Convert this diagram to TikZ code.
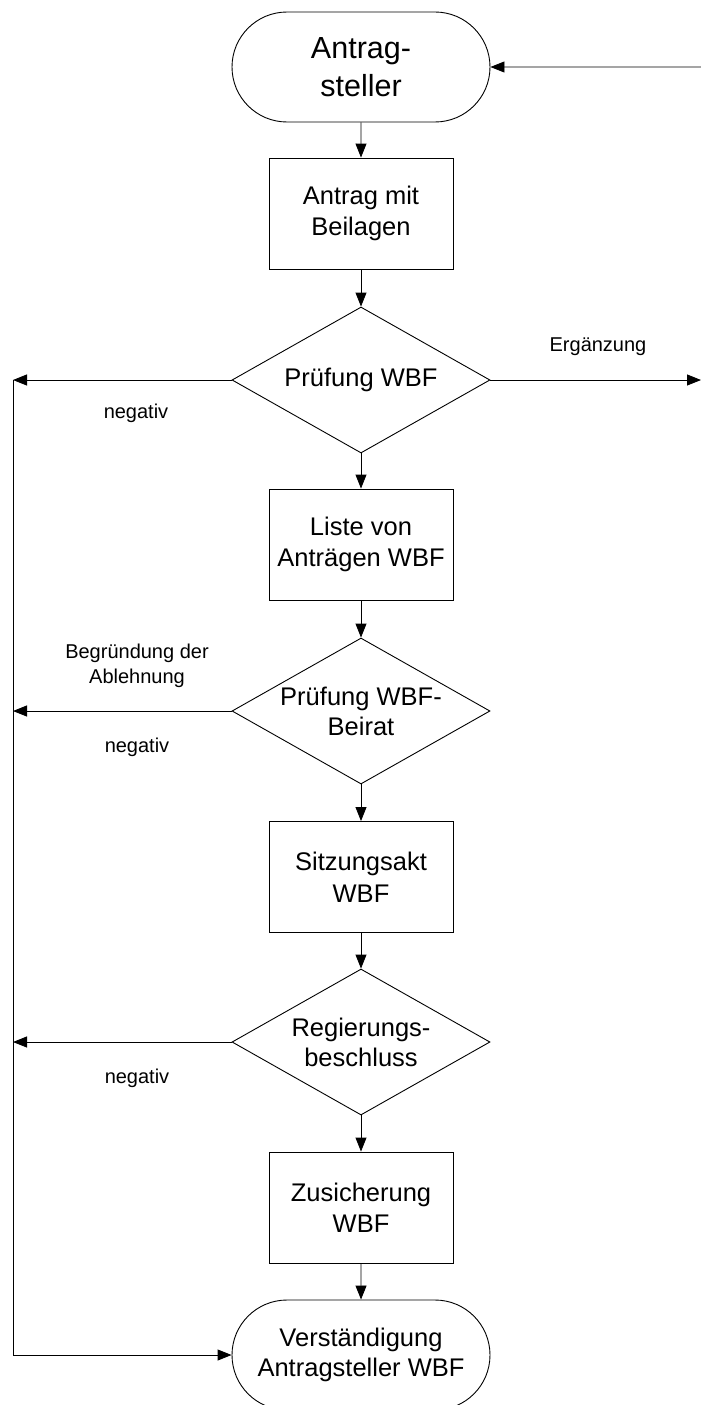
\documentclass[tikz,border=0pt]{standalone}
\usepackage{fontspec}
\setmainfont{Liberation Sans}
\usetikzlibrary{shapes.geometric, shapes.misc, arrows.meta}

\tikzset{
  terminal/.style={draw, rounded rectangle, minimum width=258pt, minimum height=110pt, inner sep=0pt, align=center, font=\fontsize{25.5}{30}\selectfont},
  process/.style={draw, rectangle, minimum width=184pt, minimum height=111pt, inner sep=0pt, align=center, font=\fontsize{25.5}{31.5}\selectfont},
  dtext/.style={align=center, font=\fontsize{25.5}{30}\selectfont},
  decision/.style={draw, diamond, minimum width=258pt, minimum height=146pt, inner sep=0pt, label={[dtext]center:#1}},
  note/.style={align=center, font=\fontsize{20}{25}\selectfont},
  flow/.style={-{Triangle[length=14pt,width=11pt]}}
}

\begin{document}
\begin{tikzpicture}[x=1pt, y=-1pt, line width=0.9pt]
\clip (0,0) rectangle (701,1405);

% main column
\node[terminal, font=\fontsize{30.5}{38}\selectfont] (antragsteller) at (361,67) {Antrag-\\steller};
\node[process] (beilagen) at (361,213.5) {Antrag mit\\Beilagen};
\node[decision={Prüfung WBF}] (pruefwbf) at (361,380) {};
\node[process] (liste) at (361,544.5) {Liste von\\Anträgen WBF};
\node[decision={Prüfung WBF-\\Beirat}] (pruefbeirat) at (361,711) {};
\node[process] (sitzung) at (361,877) {Sitzungsakt\\WBF};
\node[decision={Regierungs-\\beschluss}] (regierung) at (361,1042) {};
\node[process] (zusicherung) at (361,1207.5) {Zusicherung\\WBF};
\node[terminal] (verstaendigung) at (361,1355) {Verständigung\\Antragsteller WBF};

% free ends
\coordinate (rin) at (701,67);
\coordinate (rout) at (701,380);
\coordinate (neg1) at (13,380);
\coordinate (neg2) at (13,711);
\coordinate (neg3) at (13,1042);
\coordinate (negend) at (13,1355);

\draw[flow] (antragsteller) -- (beilagen);
\draw[flow] (beilagen) -- (pruefwbf);
\draw[flow] (pruefwbf) -- (liste);
\draw[flow] (liste) -- (pruefbeirat);
\draw[flow] (pruefbeirat) -- (sitzung);
\draw[flow] (sitzung) -- (regierung);
\draw[flow] (regierung) -- (zusicherung);
\draw[flow] (zusicherung) -- (verstaendigung);

\draw[flow] (rin) -- (antragsteller);
\draw[flow] (pruefwbf) -- (rout);
\draw[flow] (pruefwbf) -- (neg1);
\draw[flow] (pruefbeirat) -- (neg2);
\draw[flow] (regierung) -- (neg3);
\draw (neg1) -- (negend);
\draw[flow] (negend) -- (verstaendigung);

% labels
\node[note] (ergaenzung) at (598,347) {Ergänzung};
\node[note] (negativa) at (136,413) {negativ};
\node[note] (begruendung) at (137,666) {Begründung der\\Ablehnung};
\node[note] (negativb) at (137,747) {negativ};
\node[note] (negativc) at (137,1078) {negativ};
\end{tikzpicture}
\end{document}
